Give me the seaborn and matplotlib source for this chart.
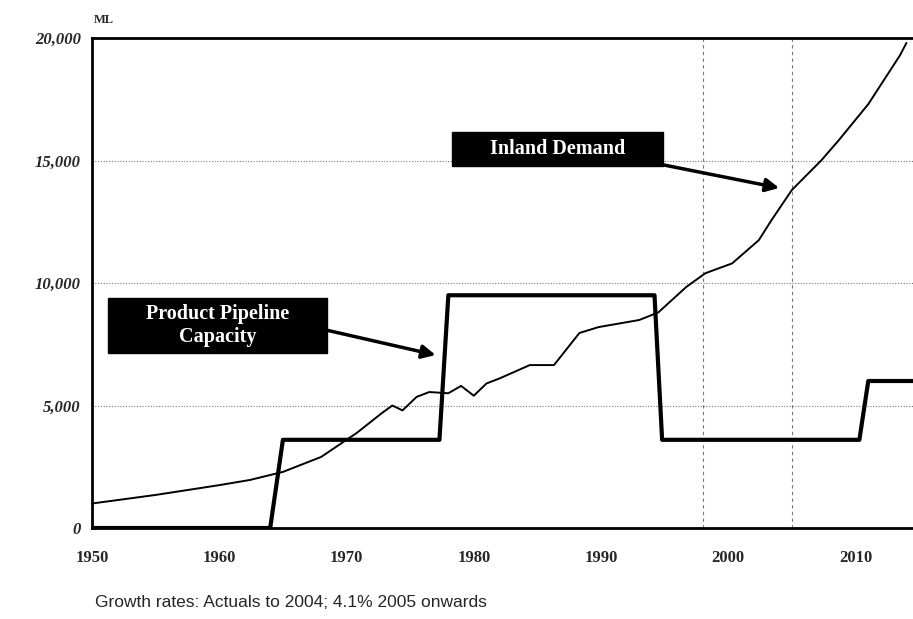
import pandas as pd
import seaborn as sns
import matplotlib.pyplot as plt
from matplotlib.patches import Rectangle

# inland demand
demand_years = [1950, 1955, 1960, 1962.4, 1965, 1968, 1970.8, 1972.8, 1973.6, 1974.4, 1975.5,
                1976.5, 1978, 1979, 1980, 1981, 1982, 1984.4, 1986.3, 1988.3, 1989.8, 1993,
                1994.5, 1996.7, 1998.2, 2000.3, 2002.4, 2003.4, 2005, 2007.3, 2008.7, 2011,
                2013.5, 2014]
demand = [1000, 1350, 1750, 1960, 2290, 2900, 3880, 4700, 5000, 4800, 5350,
          5550, 5500, 5800, 5400, 5900, 6100, 6650, 6650, 7960, 8200, 8490,
          8800, 9840, 10400, 10800, 11750, 12570, 13800, 15000, 15840, 17300,
          19300, 19800]

# product pipeline capacity
cap_years = [1950, 1964, 1965, 1977.3, 1978, 1994.2, 1994.8, 2010.3, 2011, 2014.5]
capacity = [0, 0, 3600, 3600, 9500, 9500, 3600, 3600, 6000, 6000]

yticks = [0, 5000, 10000, 15000, 20000]
ytick_labels = ["0", "5,000", "10,000", "15,000", "20,000"]
xticks = [1950, 1960, 1970, 1980, 1990, 2000, 2010]
marker_years = [1998, 2005]

df_d = pd.DataFrame({"year": demand_years, "value": demand})
df_c = pd.DataFrame({"year": cap_years, "value": capacity})

sns.set_style("white")
plt.rcParams["font.family"] = ["Liberation Serif", "DejaVu Serif"]

fig = plt.figure(figsize=(9.13, 6.19), dpi=100)
ax = fig.add_axes([0.1008, 0.147, 0.899, 0.7916])

for y in yticks[1:-1]:
    ax.axhline(y, color="#777777", lw=0.8, ls=(0, (1, 1.5)), zorder=1)
for x in marker_years:
    ax.axvline(x, color="#777777", lw=0.8, ls=(0, (3, 3)), zorder=1)

sns.lineplot(data=df_d, x="year", y="value", ax=ax, color="black", lw=1.4, zorder=3)
sns.lineplot(data=df_c, x="year", y="value", ax=ax, color="black", lw=3, zorder=4)

ax.set_xlim(1950, 2014.5)
ax.set_ylim(0, 20000)
ax.set_xticks(xticks)
ax.set_xticklabels([str(x) for x in xticks], fontsize=12, fontweight="bold")
ax.set_yticks(yticks)
ax.set_yticklabels(ytick_labels, fontsize=12, fontweight="bold", style="italic")
ax.tick_params(axis="x", pad=16, length=0)
ax.tick_params(axis="y", pad=8, length=0)
ax.set_xlabel("")
ax.set_ylabel("")
for s in ["left", "top", "bottom"]:
    ax.spines[s].set_color("black")
    ax.spines[s].set_linewidth(2)
ax.spines["right"].set_visible(False)

# labels in black boxes
ax.add_patch(Rectangle((1978.3, 14780), 16.6, 1390, fc="black", ec="black", zorder=6))
ax.text(1986.6, 15475, "Inland Demand", color="white", fontsize=14.5, fontweight="bold",
        ha="center", va="center", zorder=7)
ax.add_patch(Rectangle((1951.25, 7140), 17.25, 2250, fc="black", ec="black", zorder=6))
ax.text(1959.9, 8265, "Product Pipeline\nCapacity", color="white", fontsize=14.5,
        fontweight="bold", ha="center", va="center", linespacing=1.15, zorder=7)

arrow = dict(arrowstyle="-|>", color="black", lw=2.5, mutation_scale=20,
             shrinkA=0, shrinkB=0)
ax.annotate("", xy=(2004.0, 13880), xytext=(1994.9, 14820), arrowprops=arrow, zorder=5)
ax.annotate("", xy=(1977.0, 7060), xytext=(1968.4, 8080), arrowprops=arrow, zorder=5)

fig.text(0.103, 0.968, "ML", fontsize=9, fontweight="bold", ha="left", va="center")
fig.text(0.104, 0.026, "Growth rates: Actuals to 2004; 4.1% 2005 onwards",
         family=["Liberation Sans", "DejaVu Sans"], fontsize=12.5, ha="left", va="center")

fig.savefig("out.png", dpi=100)
